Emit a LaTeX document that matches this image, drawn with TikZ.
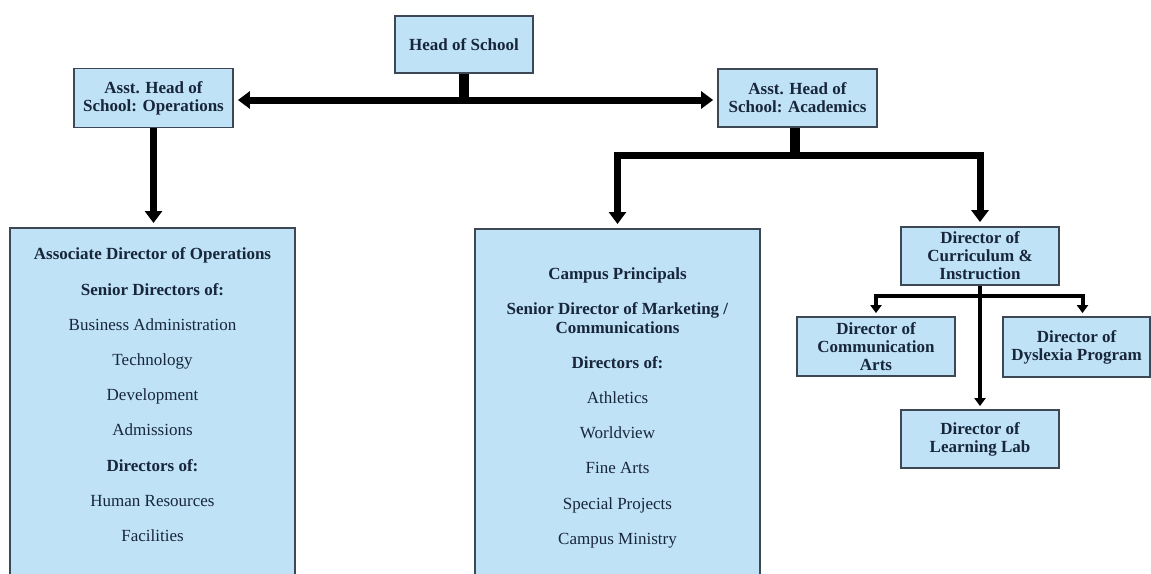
\documentclass[tikz,border=0pt]{standalone}
\usepackage{fontspec}
\setmainfont{Liberation Serif}
\usetikzlibrary{arrows.meta}
\definecolor{boxfill}{RGB}{191,226,247}
\definecolor{boxline}{RGB}{62,72,84}
\definecolor{txt}{RGB}{24,38,58}
\tikzset{
  box/.style={draw=boxline, fill=boxfill, line width=1.8pt, inner sep=0pt,
    align=center, text=txt, font=\fontsize{17}{18}\selectfont\bfseries},
  bigbox/.style={draw=boxline, fill=boxfill, line width=1.8pt, inner sep=0pt,
    anchor=north, text=txt},
  stem/.style={line width=10pt},
  arr/.style={line width=7pt, line join=miter, -{Triangle[width=17pt,length=12pt]}, shorten >=4pt},
  arrsmall/.style={line width=4pt, line join=miter, -{Triangle[width=11pt,length=8pt]}, shorten >=3pt},
}
\begin{document}
\begin{tikzpicture}[x=1pt,y=-1pt]
\fill[white] (0,0) rectangle (1151,573);
\useasboundingbox (0,0) rectangle (1151,573);

% top level
\node[box, minimum width=138pt, minimum height=57pt] (head) at (464,44.5) {Head of School};
\node[box, minimum width=159pt, minimum height=59pt] (ops) at (153.5,98) {Asst. Head of\\School: Operations};
\node[box, minimum width=159pt, minimum height=58pt] (acad) at (797.5,98) {Asst. Head of\\School: Academics};

% big boxes
\node[bigbox] (lbox) at (152.5,227) {\parbox[c][360pt][t]{285pt}{\centering\fontsize{17}{35.2}\selectfont
\vspace*{20pt}\textbf{Associate Director of Operations}\\
\textbf{Senior Directors of:}\\
Business Administration\\
Technology\\
Development\\
Admissions\\
\textbf{Directors of:}\\
Human Resources\\
Facilities}};

\node[bigbox] (mbox) at (617.5,228) {\parbox[c][360pt][t]{285pt}{\centering\fontsize{17}{35.2}\selectfont
\vspace*{39pt}\textbf{Campus Principals}\\
\textbf{Senior Director of Marketing /}\\[-17pt]
\textbf{Communications}\\
\textbf{Directors of:}\\
Athletics\\
Worldview\\
Fine Arts\\
Special Projects\\
Campus Ministry}};

% curriculum branch
\node[box, minimum width=158pt, minimum height=58pt] (curr) at (980,256) {Director of\\Curriculum \&\\Instruction};
\node[box, minimum width=158pt, minimum height=59pt] (ca) at (876,346.5) {Director of\\Communication\\Arts};
\node[box, minimum width=147pt, minimum height=60pt] (dy) at (1076.5,347) {Director of\\Dyslexia Program};
\node[box, minimum width=158pt, minimum height=58pt] (ll) at (980,439) {Director of\\Learning Lab};

% connectors: head
\coordinate (j1) at (464,100);
\draw[stem] (head.south) -- (j1);
\draw[arr] (j1) -- (j1 -| ops.east);
\draw[arr] (j1) -- (j1 -| acad.west);

% ops down
\draw[arr] (ops.south) -- (ops.south |- lbox.north);

% academics
\coordinate (j2) at (795,155);
\draw[stem] (acad.south -| j2) -- (j2);
\draw[arr] (j2) -| (mbox.north);
\draw[arr] (j2) -| (curr.north);

% curriculum
\coordinate (j3) at (980,296);
\draw[arrsmall] (curr.south) -- (ll.north);
\draw[arrsmall] (j3) -| (ca.north);
\draw[arrsmall] (j3) -| ([xshift=6pt]dy.north);
\end{tikzpicture}
\end{document}
